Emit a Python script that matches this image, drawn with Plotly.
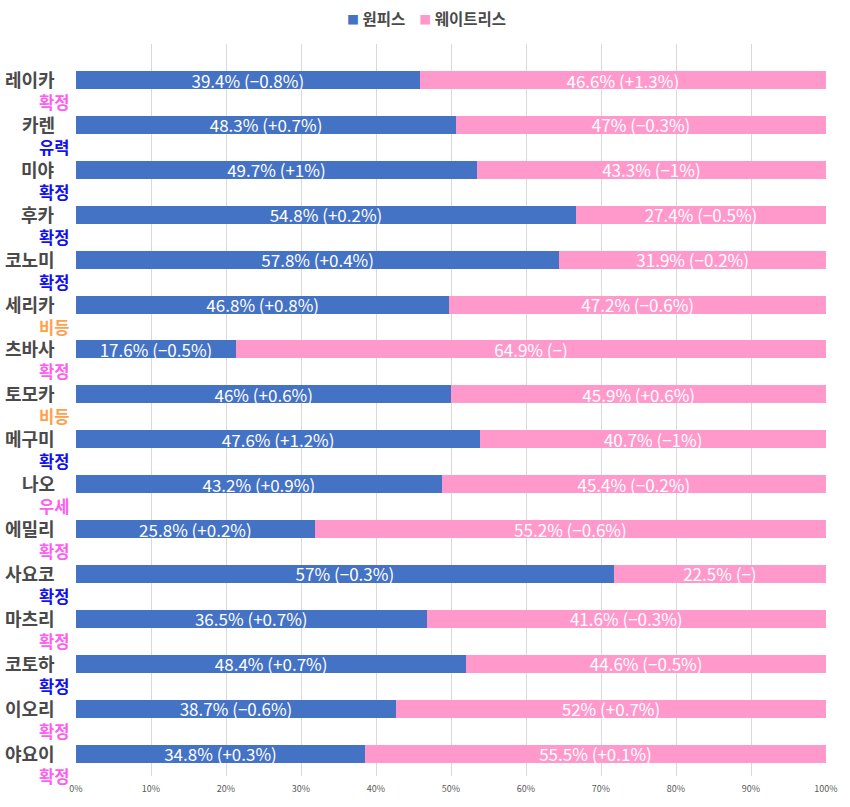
import plotly.graph_objects as go

names = ["레이카", "카렌", "미야", "후카", "코노미", "세리카", "츠바사", "토모카",
         "메구미", "나오", "에밀리", "사요코", "마츠리", "코토하", "이오리", "야요이"]
status = ["확정", "유력", "확정", "확정", "확정", "비등", "확정", "비등",
          "확정", "우세", "확정", "확정", "확정", "확정", "확정", "확정"]
status_side = ["w", "o", "o", "o", "o", "t", "w", "t",
               "o", "w", "w", "o", "w", "o", "w", "w"]
onepiece = [39.4, 48.3, 49.7, 54.8, 57.8, 46.8, 17.6, 46.0,
            47.6, 43.2, 25.8, 57.0, 36.5, 48.4, 38.7, 34.8]
onepiece_chg = ["−0.8", "+0.7", "+1", "+0.2", "+0.4", "+0.8", "−0.5", "+0.6",
                "+1.2", "+0.9", "+0.2", "−0.3", "+0.7", "+0.7", "−0.6", "+0.3"]
waitress = [46.6, 47.0, 43.3, 27.4, 31.9, 47.2, 64.9, 45.9,
            40.7, 45.4, 55.2, 22.5, 41.6, 44.6, 52.0, 55.5]
waitress_chg = ["+1.3", "−0.3", "−1", "−0.5", "−0.2", "−0.6", "−", "+0.6",
                "−1", "−0.2", "−0.6", "−", "−0.3", "−0.5", "+0.7", "+0.1"]
x_ticks = [0, 10, 20, 30, 40, 50, 60, 70, 80, 90, 100]

status_colors = {"o": "#1010f0", "w": "#ff5cf0", "t": "#ffa04d"}
FONT = "Noto Sans CJK KR"


def label(v, c):
    return f"{v:g}% (−)" if c == "−" else f"{v:g}% ({c}%)"


op_text = [label(v, c) for v, c in zip(onepiece, onepiece_chg)]
wt_text = [label(v, c) for v, c in zip(waitress, waitress_chg)]

fig = go.Figure()
fig.add_trace(go.Bar(
    y=names, x=onepiece, orientation="h", name="원피스",
    marker=dict(color="#4472C4", line=dict(width=0)),
    text=op_text, textposition="inside", insidetextanchor="middle",
    textfont=dict(color="white", size=17, family=FONT),
    constraintext="none", hoverinfo="skip",
))
fig.add_trace(go.Bar(
    y=names, x=waitress, orientation="h", name="웨이트리스",
    marker=dict(color="#FF99CC", line=dict(width=0)),
    text=wt_text, textposition="inside", insidetextanchor="middle",
    textfont=dict(color="white", size=17, family=FONT),
    constraintext="none", hoverinfo="skip",
))

annotations = []
for n, s, side in zip(names, status, status_side):
    annotations.append(dict(
        x=-0.0253, xref="paper", y=n, yref="y", text=f"<b>{n}</b>",
        showarrow=False, xanchor="right", yanchor="middle", yshift=1,
        font=dict(size=18, color="#4a4a4a", family=FONT),
    ))
    annotations.append(dict(
        x=-0.0067, xref="paper", y=n, yref="y", text=f"<b>{s}</b>", yshift=-22,
        showarrow=False, xanchor="right", yanchor="middle",
        font=dict(size=16.5, color=status_colors[side], family=FONT),
    ))

# legend drawn as text
annotations.append(dict(
    x=0.4667, xref="paper", y=1, yref="paper", yshift=26,
    xanchor="center", yanchor="middle", showarrow=False,
    text=("<span style='color:#4472C4;font-size:12px'>■</span> <b>원피스</b>    "
          "<span style='color:#FF99CC;font-size:12px'>■</span> <b>웨이트리스</b>"),
    font=dict(size=15.5, color="#4a4a4a", family=FONT),
))

fig.update_layout(
    width=850, height=807,
    barmode="stack", barnorm="percent", bargap=0.6,
    plot_bgcolor="white", paper_bgcolor="white",
    margin=dict(l=76, r=24, t=44, b=27),
    font=dict(family=FONT, color="#595959"),
    showlegend=False,
    uniformtext=dict(minsize=14, mode="show"),
    xaxis=dict(range=[0, 100], tickvals=x_ticks, ticktext=[f"{t}%" for t in x_ticks],
               showgrid=True, gridcolor="#d9d9d9", gridwidth=1, zeroline=False,
               tickfont=dict(size=9, color="#595959"), fixedrange=True,
               showline=False, ticks="", ticklabelstandoff=6),
    yaxis=dict(autorange="reversed", showticklabels=False, showgrid=False,
               categoryorder="array", categoryarray=names, fixedrange=True),
    annotations=annotations,
)

fig.write_html("out.html",
               config={"displayModeBar": False},
               post_script="document.body.style.margin='0px';document.body.style.overflow='hidden';")
